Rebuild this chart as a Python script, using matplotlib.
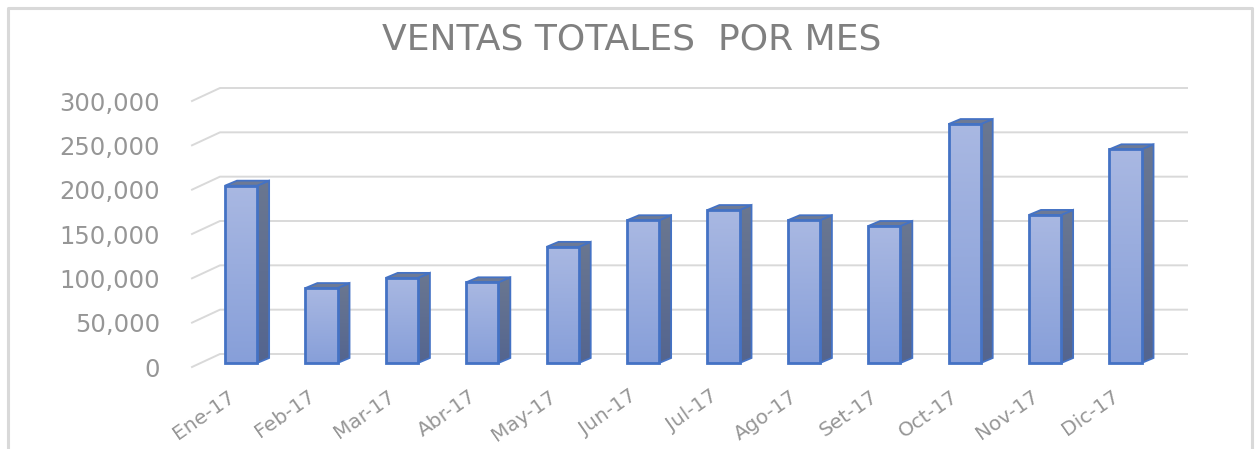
import numpy as np
import matplotlib
matplotlib.use("Agg")
import matplotlib.pyplot as plt
from matplotlib.lines import Line2D
from matplotlib.patches import Polygon
from matplotlib.colors import LinearSegmentedColormap
from matplotlib.transforms import ScaledTranslation

months = ["Ene-17", "Feb-17", "Mar-17", "Abr-17", "May-17", "Jun-17",
          "Jul-17", "Ago-17", "Set-17", "Oct-17", "Nov-17", "Dic-17"]
sales = [200000, 84500, 96000, 91000, 131000, 161000,
         172500, 161000, 154500, 269500, 167000, 241000]
y_ticks = [0, 50000, 100000, 150000, 200000, 250000, 300000]

W, H = 1255, 449
GREY = "#969696"
GRID = "#d9d9d9"
EDGE = "#4472c4"

# pixel <-> data scales of the axes
PX_X = 1 / 80.4
PX_Y = 300000 / 266
XMIN = -0.61
XMAX = XMIN + (1187 - 192) * PX_X

fig = plt.figure(figsize=(W / 100, H / 100), dpi=100)
ax = fig.add_axes([192 / W, (H - 363) / H, (1187 - 192) / W, 266 / H])

# outer chart border
fig.add_artist(Line2D([8 / W, 8 / W, 1251.5 / W, 1251.5 / W],
                      [0, (H - 7.5) / H, (H - 7.5) / H, 0],
                      color=GRID, lw=2.2, transform=fig.transFigure))

# back wall gridlines and their slanted floor part
wall_dx = 28 * PX_X
for v in y_ticks:
    ax.plot([XMIN, XMIN + wall_dx, XMAX],
            [v - 4 * PX_Y, v + 9 * PX_Y, v + 9 * PX_Y],
            color=GRID, lw=1.4, clip_on=False, zorder=1)

face_cmap = LinearSegmentedColormap.from_list("face", ["#a9b8e2", "#879fd9"])
side_cmap = LinearSegmentedColormap.from_list("side", ["#6a7791", "#54658f"])
grad = np.linspace(0, 1, 128).reshape(-1, 1)

width = 0.4
dx = 12 * PX_X
dy = 5 * PX_Y
for i, val in enumerate(sales):
    x0 = i - width / 2
    x1 = i + width / 2
    # side face
    side = Polygon([(x1, 0), (x1 + dx, dy), (x1 + dx, val + dy), (x1, val)],
                   closed=True, fc="none", ec=EDGE, lw=1.3, clip_on=False, zorder=3)
    ax.add_patch(side)
    im = ax.imshow(grad, cmap=side_cmap, aspect="auto", zorder=2.9,
                   extent=(x1, x1 + dx, 0, val + dy), origin="upper")
    im.set_clip_path(side)
    # top face
    ax.add_patch(Polygon([(x0, val), (x0 + dx, val + dy), (x1 + dx, val + dy), (x1, val)],
                         closed=True, fc="#6d7a96", ec=EDGE, lw=1.3, clip_on=False, zorder=3))
    # front face
    rect = ax.bar(i, val, width, color="none", edgecolor=EDGE, linewidth=2.0,
                  clip_on=False, zorder=4)[0]
    im = ax.imshow(grad, cmap=face_cmap, aspect="auto", zorder=3.9,
                   extent=(x0, x1, 0, val), origin="upper")
    im.set_clip_path(rect)

ax.set_xlim(XMIN, XMAX)
ax.set_ylim(0, 300000)
for spine in ax.spines.values():
    spine.set_visible(False)
ax.patch.set_visible(False)

ax.set_yticks(y_ticks)
ax.set_yticklabels([f"{v:,}" for v in y_ticks], fontsize=17.5, color=GREY)
ax.tick_params(axis="y", length=0, pad=23)
offset = ScaledTranslation(0, -3 / 72, fig.dpi_scale_trans)
for label in ax.get_yticklabels():
    label.set_transform(label.get_transform() + offset)

ax.set_xticks(range(len(months)))
ax.set_xticklabels(months, fontsize=14.5, color=GREY, rotation=35,
                   ha="right", rotation_mode="anchor")
ax.tick_params(axis="x", length=0, pad=17)
offset = ScaledTranslation(-10 / 72, 0, fig.dpi_scale_trans)
for label in ax.get_xticklabels():
    label.set_transform(label.get_transform() + offset)

fig.text(632 / W, (H - 39) / H, "VENTAS TOTALES  POR MES", fontsize=26,
         color="#808080", ha="center", va="center")

fig.savefig("out.png", dpi=100)
